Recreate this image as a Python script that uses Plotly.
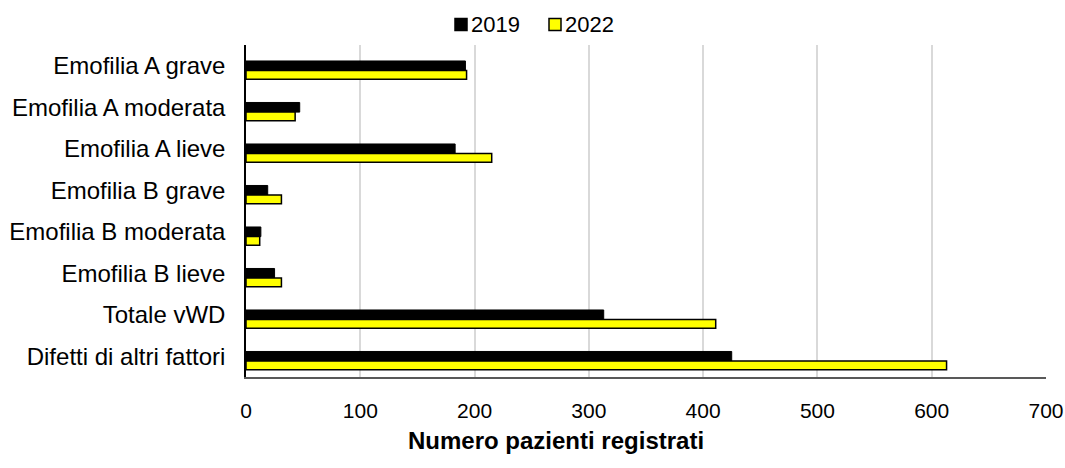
import plotly.graph_objects as go

categories = [
    "Emofilia A grave",
    "Emofilia A moderata",
    "Emofilia A lieve",
    "Emofilia B grave",
    "Emofilia B moderata",
    "Emofilia B lieve",
    "Totale vWD",
    "Difetti di altri fattori",
]
values_2019 = [192, 47, 183, 19, 13, 25, 313, 425]
values_2022 = [193, 43, 215, 31, 12, 31, 411, 613]
x_ticks = [0, 100, 200, 300, 400, 500, 600, 700]
series_names = ["2019", "2022"]
series_colors = ["#000000", "#FFFF00"]

FONT = "Liberation Sans, Arial, sans-serif"
W, H = 1065, 468
ML, MR, MT, MB = 246, 19, 45, 91
PW, PH = W - ML - MR, H - MT - MB


def px_x(px):
    return (px - ML) / PW


def px_y(py):
    return (H - MB - py) / PH


fig = go.Figure()
# bars sit slightly below the category centre, 2019 above 2022
fig.add_trace(go.Bar(
    name=series_names[0], y=categories, x=values_2019, orientation="h",
    offset=-0.115, width=0.232,
    marker=dict(color=series_colors[0], line=dict(color="#000000", width=1)),
))
fig.add_trace(go.Bar(
    name=series_names[1], y=categories, x=values_2022, orientation="h",
    offset=0.117, width=0.21,
    marker=dict(color=series_colors[1], line=dict(color="#000000", width=1.5)),
))

fig.update_layout(
    width=W, height=H,
    margin=dict(l=ML, r=MR, t=MT, b=MB, autoexpand=False),
    paper_bgcolor="white", plot_bgcolor="white",
    barmode="overlay",
    font=dict(family=FONT, size=22, color="#000000"),
    showlegend=False,
)

fig.update_yaxes(
    autorange="reversed", showgrid=False, automargin=False,
    showline=True, linecolor="#000000", linewidth=1.5,
    ticks="", ticklabelstandoff=14,
    tickfont=dict(size=24, family=FONT),
)
fig.update_xaxes(
    range=[0, 700], tickvals=x_ticks, automargin=False,
    showgrid=True, gridcolor="#d9d9d9", gridwidth=1.5,
    showline=True, linecolor="#595959", linewidth=1.5,
    zeroline=False, ticks="", ticklabelstandoff=14,
    tickfont=dict(size=21, family=FONT),
)

# compact legend: swatch directly followed by the year
legend_left = [455, 549]
for name, color, left in zip(series_names, series_colors, legend_left):
    fig.add_shape(
        type="rect", xref="paper", yref="paper",
        x0=px_x(left), x1=px_x(left + 12), y0=px_y(30.5), y1=px_y(18.5),
        fillcolor=color, line=dict(color="#000000", width=1.5),
    )
    fig.add_annotation(
        text=name, xref="paper", yref="paper",
        x=px_x(left + 14), y=px_y(24.5), xanchor="left", yanchor="middle",
        showarrow=False, font=dict(size=22, family=FONT),
    )

fig.add_annotation(
    text="<b>Numero pazienti registrati</b>", xref="paper", yref="paper",
    x=0.3875, y=-0.19, xanchor="center", yanchor="middle", showarrow=False,
    font=dict(size=24, family=FONT),
)

fig.write_html("out.html")
